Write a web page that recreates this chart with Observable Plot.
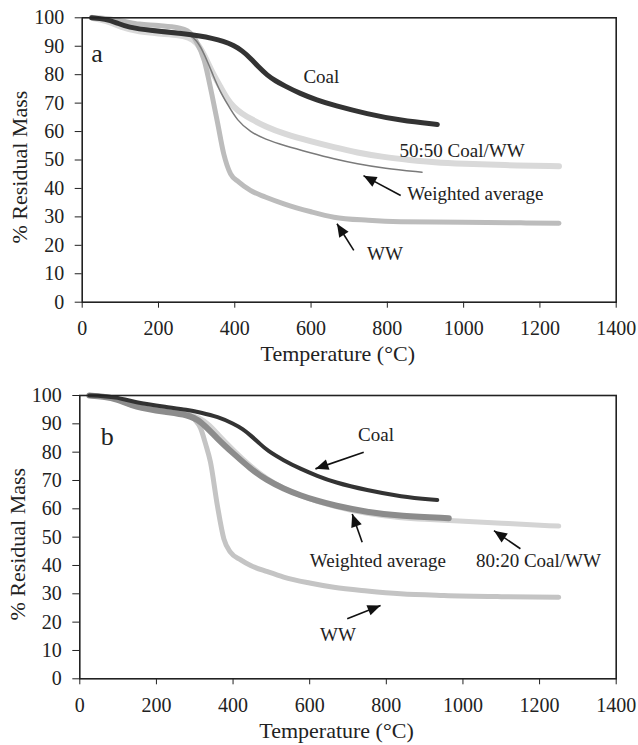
<!DOCTYPE html>
<html><head><meta charset="utf-8">
<script src="https://cdn.jsdelivr.net/npm/d3@7"></script>
<script src="https://cdn.jsdelivr.net/npm/@observablehq/plot@0.6"></script>
<style>
body{margin:0;background:#fff}
#chart svg{display:block}
#chart svg text{font-family:"Liberation Serif","DejaVu Serif",serif !important}
</style>
</head><body><div id="chart"></div>
<script>
// ---- tick labels ----
const xTicks = [0, 200, 400, 600, 800, 1000, 1200, 1400];
const yTicks = [0, 10, 20, 30, 40, 50, 60, 70, 80, 90, 100];
const xLabel = "Temperature (°C)";
const yLabel = "% Residual Mass";

// ---- panel a series: [temperature °C, % residual mass] ----
const coalA = [[25,100],[60,99.6],[90,98.3],[120,96.6],[180,95.5],[267,94.4],[310,93.6],[340,92.8],[370,91.8],[397,90.3],[420,88.4],[441,85.8],[463,82.6],[485,79.8],[507,77.8],[529,76.2],[572,73.3],[615,71.1],[660,69.2],[747,66.2],[835,63.9],[931,62.5]];
const wwA = [[25,100],[60,99.8],[100,99],[150,97.8],[200,97.3],[250,96.5],[275,95.5],[300,91.5],[320,85],[340,73],[355,63],[371,52.2],[389,45.1],[410,42.3],[441,39.3],[480,37],[529,34.6],[600,31.8],[660,29.9],[750,28.8],[835,28.3],[1000,28.1],[1150,27.9],[1250,27.8]];
const blend5050A = [[25,100],[60,99.2],[100,96.8],[150,95],[200,94.5],[250,94],[280,93.2],[300,91.5],[320,87],[340,81],[363,75.6],[380,71.5],[397,68.6],[420,66.2],[441,64.5],[480,61.8],[529,59.2],[600,56.5],[660,54.5],[720,52.6],[791,51],[860,50],[922,49.2],[1000,48.7],[1100,48.2],[1250,47.8]];
const wavgA = [[25,100],[60,99.5],[100,97.8],[150,96.4],[200,95.9],[250,95.2],[280,94.3],[300,92.2],[320,87.5],[345,79.1],[362,74],[380,69.8],[406,63.9],[441,59.8],[480,57.3],[529,55.1],[600,52.5],[660,50.4],[720,48.7],[791,47.1],[891,45.7]];

// ---- panel b series ----
const coalB = [[25,100],[60,99.8],[98,99.4],[141,97.6],[228,95.9],[280,95],[315,94],[360,92.5],[402,90],[425,88.2],[446,85.9],[468,83.2],[489,80.6],[532,77.1],[576,74.1],[620,71.6],[663,69.4],[750,66.5],[837,64.3],[933,63.1]];
const wavgB = [[25,100],[60,99.6],[98,98.8],[141,95.9],[228,94.1],[280,93.2],[315,91.2],[359,84.7],[402,79.4],[446,74.1],[489,70],[532,67.1],[576,64.7],[620,62.8],[663,61.2],[750,58.8],[837,57.4],[963,56.7]];
const blend8020B = [[25,100],[60,99.6],[98,98.8],[141,96],[228,94.3],[280,93.6],[315,92],[340,89.5],[359,86.5],[402,80.5],[446,75],[489,70.5],[532,67.2],[576,64.5],[663,60.8],[750,58.2],[837,56.8],[900,56.3],[967,55.9],[1098,54.9],[1250,53.9]];
const wwB = [[25,100],[60,99.6],[98,98.6],[141,96.4],[200,95.2],[250,94.5],[280,93.5],[300,91.5],[315,88.5],[328,83],[341,76.5],[359,61.2],[376,49.4],[393,44.7],[420,42],[446,40],[490,37.8],[532,35.9],[600,33.8],[663,32.3],[750,31],[837,30],[950,29.4],[1100,29],[1250,28.8]];

// ---- annotations: [text, T, mass(baseline), fontSize] ----
const labelsA = [["a",39,84.3,26],["Coal",627,76.9,19],["50:50 Coal/WW",996,50.9,19],["Weighted average",1031,35.8,19],["WW",794,14.7,19]];
const labelsB = [["b",71.5,82.4,26],["Coal",773,84.1,19],["Weighted average",778,39.3,19],["80:20 Coal/WW",1197,39.3,19],["WW",674,13.5,19]];
// arrows: [tailT, tailM, tipT, tipM]
const arrowsA = [[835,37.5,737.5,44.5],[712,18.2,668,27.6]];
const arrowsB = [[741,80,615,74.1],[737,48.2,711,58.2],[1150,45.9,1081,52.3],[698,21.2,785,25.9]];

const FONT = "Liberation Serif";
const headSymbol = {draw(ctx) { ctx.moveTo(0, 0); ctx.lineTo(-5.5, 13); ctx.lineTo(5.5, 13); ctx.closePath(); }};

function panel(cfg) {
  const W = 638;
  const innerW = W - cfg.ml - cfg.mr;
  const innerH = cfg.height - cfg.mt - cfg.mb;
  const kx = innerW / 1400, ky = innerH / 100;
  const arrows = cfg.arrows.map(([t1, m1, t2, m2]) => {
    const dx = (t2 - t1) * kx, dy = -(m2 - m1) * ky;
    return {t1, m1, t2, m2, rot: Math.atan2(dx, -dy) * 180 / Math.PI};
  });
  const marks = [];
  for (const s of cfg.series) {
    marks.push(Plot.line(s.data, {x: d => d[0], y: d => d[1], stroke: s.stroke, strokeWidth: s.width, curve: s.curve, strokeLinecap: "round", strokeLinejoin: "round"}));
  }
  marks.push(
    Plot.frame({stroke: "#222", strokeWidth: 1.6}),
    Plot.axisX({ticks: xTicks, tickFormat: d => String(d), tickSize: 6, tickPadding: 13, label: null, stroke: "#222", fill: "#222", fontSize: 20, fontFamily: FONT}),
    Plot.axisY({ticks: yTicks, tickFormat: d => String(d), tickSize: 7, tickPadding: 11, label: null, stroke: "#222", fill: "#222", fontSize: 20, fontFamily: FONT}),
    Plot.text([{t: xLabel, T: 670}], {x: "T", text: "t", frameAnchor: "bottom", lineAnchor: "middle", textAnchor: "middle", dy: 52, fontSize: 22, fontFamily: FONT, fill: "#222"}),
    Plot.text([{t: yLabel, v: 47.5}], {y: "v", text: "t", frameAnchor: "left", textAnchor: "middle", lineAnchor: "middle", dx: -62, rotate: -90, fontSize: 22, fontFamily: FONT, fill: "#222"}),
    Plot.text(cfg.labels, {x: d => d[1], y: d => d[2], text: d => d[0], fontSize: d => d[3], lineAnchor: "bottom", fontFamily: FONT, fill: "#222"}),
    Plot.link(arrows, {x1: "t1", y1: "m1", x2: "t2", y2: "m2", stroke: "#111", strokeWidth: 1.6}),
    Plot.dot(arrows, {x: "t2", y: "m2", rotate: "rot", symbol: headSymbol, fill: "#111", stroke: "none", r: 5})
  );
  return Plot.plot({
    width: W, height: cfg.height,
    marginLeft: cfg.ml, marginRight: cfg.mr, marginTop: cfg.mt, marginBottom: cfg.mb,
    x: {domain: [0, 1400], axis: null},
    y: {domain: [0, 100], axis: null},
    style: {fontFamily: FONT, fontSize: "20px", color: "#222", background: "#fff"},
    marks
  });
}

const chart = document.getElementById("chart");
chart.append(panel({
  height: 372, ml: 81.7, mr: 22.3, mt: 17.3, mb: 70.3,
  series: [
    {data: blend5050A, stroke: "#d9d9d9", width: 6, curve: "basis"},
    {data: wwA, stroke: "#bcbcbc", width: 5, curve: "monotone-x"},
    {data: wavgA, stroke: "#7a7a7a", width: 1.5, curve: "basis"},
    {data: coalA, stroke: "#333", width: 5, curve: "basis"}
  ],
  labels: labelsA, arrows: arrowsA
}));
chart.append(panel({
  height: 373, ml: 79.3, mr: 22.3, mt: 23, mb: 66.7,
  series: [
    {data: blend8020B, stroke: "#d4d4d4", width: 5, curve: "basis"},
    {data: wwB, stroke: "#c4c4c4", width: 5, curve: "monotone-x"},
    {data: wavgB, stroke: "#8c8c8c", width: 6, curve: "basis"},
    {data: coalB, stroke: "#333", width: 4, curve: "basis"}
  ],
  labels: labelsB, arrows: arrowsB
}));
</script>
</body></html>
